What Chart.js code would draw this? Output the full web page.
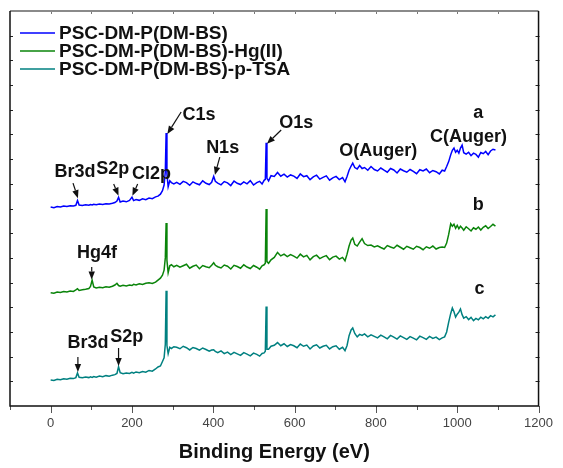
<!DOCTYPE html>
<html>
<head>
<meta charset="utf-8">
<script src="https://cdn.jsdelivr.net/npm/chart.js@4.4.1/dist/chart.umd.min.js"></script>
<style>
  html, body { margin: 0; padding: 0; background: #ffffff; }
  canvas { display: block; }
</style>
</head>
<body>
<canvas id="xps" width="563" height="468"></canvas>
<script>
// Binding energy grid (eV), shared by the three survey spectra
const energy = [
  0, 8, 16, 24, 32, 40, 48, 56, 62, 66,
  70, 78, 86, 94, 98, 102, 106, 112, 120, 128,
  136, 144, 152, 158, 163, 167, 171, 178, 186, 194,
  200, 204, 210, 218, 226, 234, 242, 250, 258, 264,
  270, 275, 279, 282, 284, 286, 289, 293, 297, 303,
  310, 318, 326, 334, 342, 350, 358, 366, 374, 382,
  390, 396, 401, 405, 411, 419, 427, 435, 443, 451,
  459, 467, 475, 483, 491, 499, 507, 514, 520, 525,
  528, 530, 532, 536, 542, 550, 558, 566, 574, 582,
  590, 598, 606, 614, 622, 630, 638, 646, 654, 662,
  670, 678, 686, 694, 702, 710, 718, 724, 729, 734,
  739, 743, 748, 754, 760, 766, 772, 780, 788, 796,
  804, 812, 820, 828, 836, 844, 852, 860, 868, 876,
  884, 892, 900, 908, 916, 924, 932, 940, 948, 956,
  963, 969, 974, 979, 984, 988, 992, 996, 1000, 1004,
  1008, 1012, 1016, 1022, 1028, 1034, 1040, 1046, 1052, 1058,
  1064, 1070, 1076, 1082, 1088, 1094
];

// Intensity (a.u., stacked with offsets) — spectrum a
const intensityA = [
  8.06, 8.03, 8.08, 8.06, 8.10, 8.08, 8.11, 8.10, 8.13, 8.32,
  8.14, 8.12, 8.15, 8.13, 8.16, 8.14, 8.17, 8.15, 8.18, 8.16,
  8.19, 8.18, 8.21, 8.24, 8.30, 8.45, 8.26, 8.30, 8.27, 8.33,
  8.46, 8.32, 8.36, 8.33, 8.39, 8.36, 8.42, 8.40, 8.47, 8.50,
  8.58, 8.72, 8.95, 9.50, 11.06, 9.40, 8.88, 9.12, 9.05, 9.00,
  9.06, 8.98, 9.10, 9.05, 8.94, 9.08, 9.01, 8.96, 9.12, 9.02,
  8.97, 9.06, 9.30, 9.10, 9.03, 8.96, 9.09, 9.04, 8.93, 9.11,
  9.02, 8.97, 9.08, 9.00, 9.13, 8.95, 9.05, 9.10, 8.99, 9.14,
  9.18, 10.66, 9.22, 9.12, 9.33, 9.30, 9.46, 9.31, 9.39, 9.27,
  9.36, 9.31, 9.22, 9.40, 9.29, 9.33, 9.17, 9.28, 9.35, 9.19,
  9.26, 9.32, 9.15, 9.24, 9.30, 9.17, 9.25, 9.08, 9.30, 9.55,
  9.72, 9.84, 9.66, 9.60, 9.74, 9.62, 9.66, 9.55, 9.70, 9.58,
  9.52, 9.64, 9.55, 9.47, 9.62, 9.56, 9.44, 9.60, 9.53, 9.47,
  9.58, 9.50, 9.41, 9.57, 9.52, 9.60, 9.45, 9.54, 9.49, 9.40,
  9.55, 9.52, 9.70, 9.90, 10.18, 10.36, 10.45, 10.28, 10.36, 10.24,
  10.45, 10.57, 10.26, 10.20, 10.28, 10.14, 10.24, 10.19, 10.08, 10.27,
  10.22, 10.31, 10.18, 10.33, 10.40, 10.37
];

// Spectrum b (after Hg(II) uptake)
const intensityB = [
  4.59, 4.57, 4.62, 4.60, 4.64, 4.62, 4.66, 4.64, 4.70, 4.75,
  4.68, 4.71, 4.73, 4.76, 4.84, 5.10, 4.82, 4.78, 4.81, 4.79,
  4.83, 4.81, 4.85, 4.90, 4.97, 4.88, 4.85, 4.89, 4.86, 4.90,
  4.88, 4.93, 4.90, 4.95, 4.92, 4.97, 4.99, 4.96, 5.02, 5.10,
  5.18, 5.30, 5.50, 6.00, 7.41, 5.90, 5.40, 5.68, 5.72, 5.64,
  5.70, 5.62, 5.68, 5.74, 5.58, 5.66, 5.71, 5.56, 5.69, 5.64,
  5.60, 5.70, 5.80, 5.70, 5.64, 5.59, 5.71, 5.66, 5.55, 5.70,
  5.65, 5.58, 5.72, 5.63, 5.57, 5.69, 5.62, 5.54, 5.68, 5.72,
  5.78, 7.98, 5.85, 5.78, 5.92, 6.02, 6.22, 6.08, 6.15, 6.05,
  6.13, 6.07, 5.99, 6.15, 6.04, 6.10, 5.92, 6.05, 6.11, 5.97,
  6.04, 6.09, 5.93, 6.03, 6.07, 5.95, 6.02, 5.88, 6.15, 6.48,
  6.72, 6.80, 6.55, 6.48, 6.64, 6.78, 6.58, 6.50, 6.52, 6.44,
  6.49, 6.42, 6.36, 6.50, 6.44, 6.39, 6.51, 6.43, 6.35, 6.47,
  6.41, 6.35, 6.47, 6.42, 6.33, 6.45, 6.39, 6.48, 6.36, 6.42,
  6.44, 6.42, 6.60, 6.95, 7.38, 7.28, 7.36, 7.20, 7.32, 7.18,
  7.28, 7.21, 7.12, 7.26, 7.18, 7.09, 7.22, 7.16, 7.25, 7.13,
  7.24, 7.30, 7.19, 7.27, 7.36, 7.29
];

// Spectrum c (after p-TSA treatment)
const intensityC = [
  1.05, 1.03, 1.08, 1.06, 1.10, 1.08, 1.12, 1.11, 1.15, 1.34,
  1.16, 1.14, 1.17, 1.15, 1.18, 1.16, 1.19, 1.17, 1.21, 1.19,
  1.23, 1.21, 1.25, 1.27, 1.32, 1.59, 1.35, 1.31, 1.34, 1.32,
  1.36, 1.33, 1.38, 1.35, 1.40, 1.37, 1.44, 1.41, 1.50, 1.58,
  1.62, 1.80, 1.95, 2.50, 4.67, 2.45, 2.12, 2.38, 2.33, 2.40,
  2.38, 2.32, 2.42, 2.36, 2.27, 2.37, 2.33, 2.26, 2.35, 2.29,
  2.22, 2.27, 2.28, 2.21, 2.16, 2.23, 2.12, 2.18, 2.08, 2.17,
  2.11, 2.05, 2.16, 2.10, 2.03, 2.14, 2.09, 2.02, 2.13, 2.15,
  2.22, 4.03, 2.30, 2.30, 2.42, 2.46, 2.57, 2.44, 2.52, 2.41,
  2.49, 2.44, 2.36, 2.51, 2.42, 2.47, 2.31, 2.43, 2.48, 2.35,
  2.42, 2.46, 2.31, 2.40, 2.44, 2.30, 2.38, 2.24, 2.45, 2.85,
  3.08, 3.16, 2.94, 2.80, 2.90, 2.86, 2.92, 2.80, 2.88, 2.82,
  2.76, 2.87, 2.80, 2.72, 2.86, 2.79, 2.71, 2.84, 2.77, 2.70,
  2.81, 2.75, 2.68, 2.83, 2.77, 2.70, 2.82, 2.74, 2.79, 2.69,
  2.76, 2.80, 3.00, 3.40, 3.75, 3.97, 3.82, 3.60, 3.72, 3.80,
  3.93, 3.70, 3.56, 3.62, 3.50, 3.59, 3.46, 3.55, 3.49, 3.60,
  3.53, 3.62, 3.55, 3.66, 3.61, 3.69
];

const seriesNames = ['PSC-DM-P(DM-BS)', 'PSC-DM-P(DM-BS)-Hg(II)', 'PSC-DM-P(DM-BS)-p-TSA'];
const seriesColors = ['#0000ff', '#0a840a', '#008080'];
const xTickLabels = [0, 200, 400, 600, 800, 1000, 1200];

// Peak labels, placed in data coordinates [energy, intensity]
const peakLabels = [
  { text: 'a', at: [1052, 11.87] },
  { text: 'b', at: [1052, 8.14] },
  { text: 'c', at: [1055, 4.74] },
  { text: 'C1s', at: [365, 11.79] },
  { text: 'N1s', at: [423, 10.45] },
  { text: 'O1s', at: [604, 11.46] },
  { text: 'O(Auger)', at: [806, 10.33] },
  { text: 'C(Auger)', at: [1028, 10.90] },
  { text: 'Br3d', at: [60, 9.48] },
  { text: 'S2p', at: [153, 9.60] },
  { text: 'Cl2p', at: [248, 9.40] },
  { text: 'Hg4f', at: [114, 6.20] },
  { text: 'Br3d', at: [92, 2.55] },
  { text: 'S2p', at: [187, 2.79] }
];

// Pointer arrows: tail -> head, data coordinates
const peakArrows = [
  { from: [321, 11.91], to: [287, 11.02] },
  { from: [416, 10.08], to: [404, 9.36] },
  { from: [567, 11.18], to: [532, 10.62] },
  { from: [55, 9.03], to: [67, 8.42] },
  { from: [155, 8.99], to: [167, 8.52] },
  { from: [214, 8.99], to: [201, 8.52] },
  { from: [101, 5.63], to: [101, 5.12] },
  { from: [67, 1.98], to: [67, 1.38] },
  { from: [167, 2.35], to: [167, 1.62] }
];

const FONT = "'Liberation Sans', Arial, Helvetica, sans-serif";

const datasets = [intensityA, intensityB, intensityC].map((vals, k) => ({
  label: seriesNames[k],
  data: energy.map((e, i) => ({ x: e, y: vals[i] })),
  borderColor: seriesColors[k],
  backgroundColor: seriesColors[k],
  borderWidth: 1.5,
  pointRadius: 0,
  showLine: true,
  tension: 0
}));

// Box frame with inward/outward ticks
const framePlugin = {
  id: 'frame',
  afterDatasetsDraw(chart) {
    const { ctx, chartArea: a, scales: { x, y } } = chart;
    ctx.save();
    ctx.lineCap = 'butt';
    // minor/major ticks below the bottom axis
    ctx.strokeStyle = '#555';
    ctx.lineWidth = 1;
    for (let v = -100; v <= 1200; v += 100) {
      const px = Math.round(x.getPixelForValue(v)) + 0.5;
      const len = v % 200 === 0 ? 7 : 4;
      ctx.beginPath(); ctx.moveTo(px, a.bottom); ctx.lineTo(px, a.bottom + len); ctx.stroke();
    }
    // small ticks hanging from the top edge
    ctx.strokeStyle = '#777';
    for (let v = 0; v <= 1100; v += 100) {
      const px = Math.round(x.getPixelForValue(v)) + 0.5;
      ctx.beginPath(); ctx.moveTo(px, a.top); ctx.lineTo(px, a.top + 3); ctx.stroke();
    }
    // unlabeled intensity ticks on both sides
    ctx.strokeStyle = '#222';
    for (let v = 1; v < 16; v++) {
      const py = Math.round(y.getPixelForValue(v)) + 0.5;
      ctx.beginPath(); ctx.moveTo(a.left, py); ctx.lineTo(a.left + 3, py); ctx.stroke();
      ctx.beginPath(); ctx.moveTo(a.right - 3, py); ctx.lineTo(a.right + 1, py); ctx.stroke();
    }
    // frame
    ctx.strokeStyle = '#8a8a8a';
    ctx.lineWidth = 2;
    ctx.beginPath(); ctx.moveTo(a.left, a.top); ctx.lineTo(a.right, a.top); ctx.stroke();
    ctx.strokeStyle = '#111';
    ctx.lineWidth = 1.5;
    ctx.beginPath();
    ctx.moveTo(a.left, a.top); ctx.lineTo(a.left, a.bottom); ctx.lineTo(a.right, a.bottom); ctx.lineTo(a.right, a.top);
    ctx.stroke();
    ctx.restore();
  }
};

// Peak names and arrows
const peakPlugin = {
  id: 'peaks',
  afterDatasetsDraw(chart) {
    const { ctx, scales: { x, y } } = chart;
    ctx.save();
    ctx.fillStyle = '#111';
    ctx.strokeStyle = '#111';
    ctx.font = `bold 18px ${FONT}`;
    ctx.textAlign = 'center';
    ctx.textBaseline = 'middle';
    peakLabels.forEach(l => {
      ctx.fillText(l.text, x.getPixelForValue(l.at[0]), y.getPixelForValue(l.at[1]));
    });
    ctx.lineWidth = 1.2;
    peakArrows.forEach(ar => {
      const x1 = x.getPixelForValue(ar.from[0]), y1 = y.getPixelForValue(ar.from[1]);
      const x2 = x.getPixelForValue(ar.to[0]), y2 = y.getPixelForValue(ar.to[1]);
      const ang = Math.atan2(y2 - y1, x2 - x1);
      const hl = 8, hw = 3.2;
      const bx = x2 - hl * Math.cos(ang), by = y2 - hl * Math.sin(ang);
      ctx.beginPath(); ctx.moveTo(x1, y1); ctx.lineTo(bx, by); ctx.stroke();
      ctx.beginPath();
      ctx.moveTo(x2, y2);
      ctx.lineTo(bx + hw * Math.sin(ang), by - hw * Math.cos(ang));
      ctx.lineTo(bx - hw * Math.sin(ang), by + hw * Math.cos(ang));
      ctx.closePath(); ctx.fill();
    });
    ctx.restore();
  }
};

// Legend in the upper-left corner of the plot
const legendPlugin = {
  id: 'cornerLegend',
  afterDraw(chart) {
    const { ctx, chartArea: a } = chart;
    ctx.save();
    ctx.font = `bold 19px ${FONT}`;
    ctx.textAlign = 'left';
    ctx.textBaseline = 'middle';
    chart.data.datasets.forEach((ds, i) => {
      const yy = a.top + 22 + i * 18;
      ctx.strokeStyle = ds.borderColor;
      ctx.lineWidth = 1.5;
      ctx.beginPath(); ctx.moveTo(a.left + 10, yy); ctx.lineTo(a.left + 45, yy); ctx.stroke();
      ctx.fillStyle = '#111';
      ctx.fillText(ds.label, a.left + 49, yy + 1);
    });
    ctx.restore();
  }
};

new Chart(document.getElementById('xps'), {
  type: 'scatter',
  data: { datasets },
  options: {
    responsive: false,
    animation: false,
    devicePixelRatio: 1,
    layout: { padding: { left: 10, top: 11, right: 21, bottom: 0 } },
    plugins: { legend: { display: false }, tooltip: { enabled: false } },
    scales: {
      x: {
        type: 'linear',
        min: -100,
        max: 1200,
        grid: { display: false, drawTicks: false },
        border: { display: false },
        ticks: {
          stepSize: 100,
          autoSkip: false,
          maxRotation: 0,
          padding: 10,
          color: '#444',
          font: { family: FONT, size: 13 },
          callback: v => (xTickLabels.includes(v) ? String(v) : '')
        },
        title: {
          display: true,
          text: 'Binding Energy (eV)',
          color: '#111',
          font: { family: FONT, size: 20, weight: 'bold' },
          padding: { top: 4, bottom: 4 }
        },
        afterFit(scale) { scale.height = 62; }
      },
      y: { display: false, min: 0, max: 16 }
    }
  },
  plugins: [framePlugin, peakPlugin, legendPlugin]
});
</script>
</body>
</html>
